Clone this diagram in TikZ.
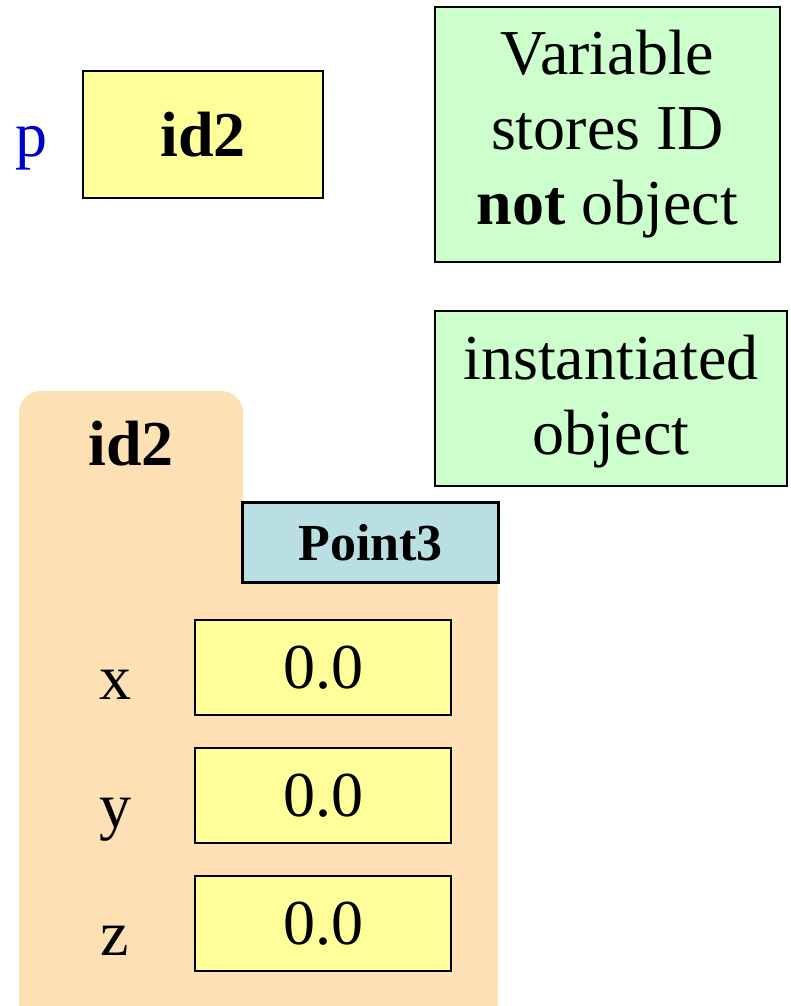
\documentclass[tikz,border=0pt]{standalone}
\usepackage{fontspec}
\setmainfont{Liberation Serif}
\definecolor{valfill}{RGB}{255,255,153}
\definecolor{notefill}{RGB}{204,255,204}
\definecolor{objfill}{RGB}{253,225,181}
\definecolor{classfill}{RGB}{185,223,227}
\definecolor{varblue}{RGB}{0,0,204}
\begin{document}
\begin{tikzpicture}[x=1pt,y=-1pt,
  bigtext/.style={font=\fontsize{64}{75}\selectfont},
  valbox/.style={draw=black,line width=2.2pt,fill=valfill,bigtext,inner sep=0pt},
  notebox/.style={draw=black,line width=2.2pt,fill=notefill,bigtext,align=center,inner sep=0pt},
  classbox/.style={draw=black,line width=2.2pt,fill=classfill,inner sep=0pt,
    font=\fontsize{52}{60}\selectfont\bfseries},
  fieldlabel/.style={bigtext,anchor=base,inner sep=0pt}]
\useasboundingbox (0,0) rectangle (790,1006);

% object folder
\fill[objfill,rounded corners=22pt] (19,1006) -- (19,391) -- (243,391) -- (243,520) -- (243,502) -- (498,502) -- (498,1006) -- cycle;
\fill[objfill] (19,600) rectangle (498,1006);
\node[bigtext,font=\fontsize{64}{75}\selectfont\bfseries,anchor=base,inner sep=0pt] (objid) at (131,465) {id2};

% variable p
\node[bigtext,text=varblue,anchor=base,inner sep=0pt] (pname) at (32,156) {p};
\node[valbox,minimum width=240pt,minimum height=127pt,font=\fontsize{64}{75}\selectfont\bfseries] (pval) at (203,134.5) {id2};

% notes
\node[notebox,minimum width=345pt,minimum height=255pt] (note1) at (607.5,134.5) {Variable\\stores ID\\\textbf{not} object};
\node[notebox,minimum width=352pt,minimum height=175pt,text depth=8pt] (note2) at (611,398.5) {instantiated\\object};

% class name
\node[classbox,minimum width=256pt,minimum height=80pt] (cls) at (370.5,542.5) {Point3};

% fields
\node[valbox,minimum width=256pt,minimum height=95pt] (fx) at (323,667.5) {0.0};
\node[valbox,minimum width=256pt,minimum height=95pt] (fy) at (323,795.5) {0.0};
\node[valbox,minimum width=256pt,minimum height=95pt] (fz) at (323,923.5) {0.0};
\node[fieldlabel] (lx) at (115,699) {x};
\node[fieldlabel] (ly) at (115,827) {y};
\node[fieldlabel] (lz) at (115,955) {z};
\end{tikzpicture}
\end{document}
